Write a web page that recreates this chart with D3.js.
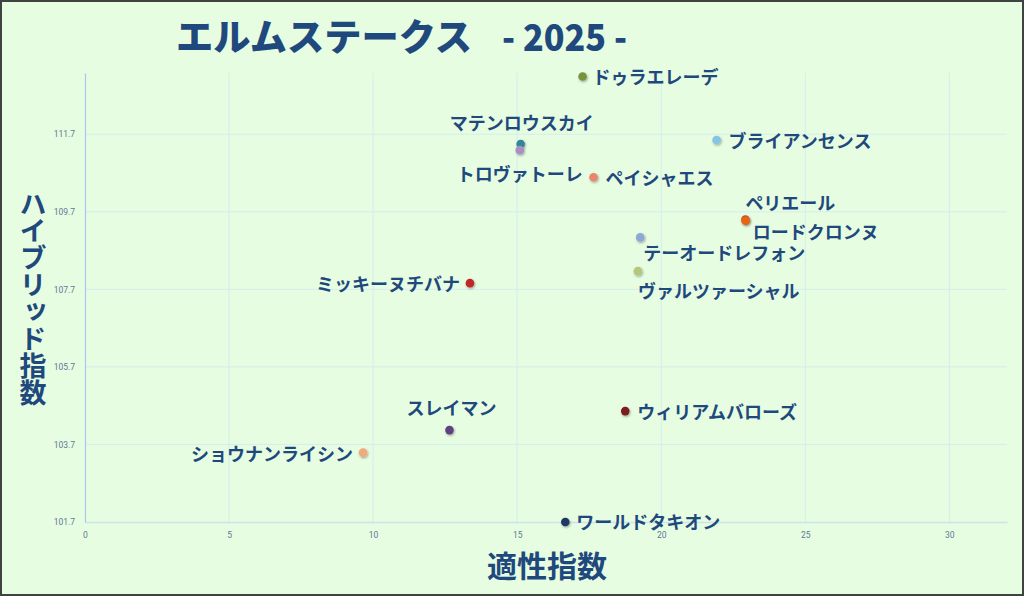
<!DOCTYPE html>
<html><head><meta charset="utf-8">
<script src="https://cdn.jsdelivr.net/npm/d3@7/dist/d3.min.js"></script>
<style>
html,body{margin:0;padding:0;background:#e6fde1;}
svg{display:block;}
</style></head>
<body>
<svg id="chart" width="1024" height="596"></svg>
<script>
// ---- data ----
const horses = ["ドゥラエレーデ","マテンロウスカイ","トロヴァトーレ","ブライアンセンス","ペイシャエス","ペリエール","ロードクロンヌ","テーオードレフォン","ヴァルツァーシャル","ミッキーヌチバナ","スレイマン","ショウナンライシン","ウィリアムバローズ","ワールドタキオン"];
const aptitude = [17.27, 15.12, 15.09, 21.92, 17.65, 22.92, 22.93, 19.27, 19.19, 13.36, 12.65, 9.65, 18.75, 16.67];
const hybrid   = [113.19, 111.45, 111.29, 111.55, 110.59, 109.50, 109.47, 109.04, 108.17, 107.86, 104.07, 103.49, 104.56, 101.70];
const colors   = ["#77933c","#31859c","#a98fc4","#86c5e2","#e8876e","#c0504d","#e8650c","#8ea8d6","#b5c77e","#c0282a","#60407f","#f2a97c","#7b1c1c","#1f3864"];
const xTicks = [0, 5, 10, 15, 20, 25, 30];
const yTicks = [101.7, 103.7, 105.7, 107.7, 109.7, 111.7];
const titleMain = "エルムステークス";
const titleYear = "- 2025 -";
const xTitle = "適性指数";
const yTitle = "ハイブリッド指数";

// ---- label placement (style, not data) ----
const place = {
  "ドゥラエレーデ":{a:"start",dx:10,dy:0},
  "マテンロウスカイ":{a:"middle",dx:1,dy:-22},
  "トロヴァトーレ":{a:"middle",dx:0,dy:23},
  "ブライアンセンス":{a:"start",dx:12,dy:0},
  "ペイシャエス":{a:"start",dx:12,dy:0},
  "ペリエール":{a:"start",dx:0,dy:-18},
  "ロードクロンヌ":{a:"start",dx:7,dy:10},
  "テーオードレフォン":{a:"start",dx:3,dy:15},
  "ヴァルツァーシャル":{a:"start",dx:0,dy:19},
  "ミッキーヌチバナ":{a:"end",dx:-10,dy:0},
  "スレイマン":{a:"middle",dx:2,dy:-23},
  "ショウナンライシン":{a:"end",dx:-10,dy:0},
  "ウィリアムバローズ":{a:"start",dx:12,dy:0},
  "ワールドタキオン":{a:"start",dx:11,dy:-1}
};

const W = 1024, H = 596;
const svg = d3.select("#chart");
const textColor = "#1f497d";
const font = "'Noto Sans CJK JP','Noto Sans',sans-serif";

// background + frame
svg.append("rect").attr("x",0).attr("y",0).attr("width",W).attr("height",H).attr("fill","#e6fde1");
svg.append("rect").attr("x",1).attr("y",1).attr("width",W-2).attr("height",H-2)
  .attr("fill","none").attr("stroke","#3f4240").attr("stroke-width",2);

const x = d3.scaleLinear().domain([0, 32]).range([85, 1007]);
const y = d3.scaleLinear().domain([101.7, 113.28]).range([522, 73]);

// drop shadow
const defs = svg.append("defs");
const f = defs.append("filter").attr("id","sh").attr("x","-50%").attr("y","-50%").attr("width","200%").attr("height","200%");
f.append("feDropShadow").attr("dx",0.8).attr("dy",1.2).attr("stdDeviation",1).attr("flood-color","#000").attr("flood-opacity",0.35);

// gridlines
const grid = svg.append("g");
grid.selectAll("line.v").data(xTicks.filter(d=>d>0)).join("line")
  .attr("x1",d=>x(d)).attr("x2",d=>x(d)).attr("y1",y.range()[1]).attr("y2",y.range()[0])
  .attr("stroke","#d6ecef").attr("stroke-width",1);
grid.selectAll("line.h").data(yTicks.filter(d=>d>101.7)).join("line")
  .attr("x1",x.range()[0]).attr("x2",x.range()[1]).attr("y1",d=>y(d)).attr("y2",d=>y(d))
  .attr("stroke","#d6ecef").attr("stroke-width",1);

// axes
const xAxis = svg.append("g").attr("transform",`translate(0,${y(101.7)})`)
  .call(d3.axisBottom(x).tickValues(xTicks).tickSize(0).tickPadding(10).tickFormat(d3.format("d")));
xAxis.select(".domain").attr("stroke","#cfe3ee").attr("stroke-width",1.5);
xAxis.selectAll("text").attr("fill","#5e7898").attr("font-size",8.5).attr("font-family","'Roboto','Noto Sans',sans-serif");

const yAxis = svg.append("g").attr("transform",`translate(${x(0)},0)`)
  .call(d3.axisLeft(y).tickValues(yTicks).tickSize(0).tickPadding(10).tickFormat(d3.format(".1f")));
yAxis.select(".domain").attr("stroke","#a9c6ee").attr("stroke-width",1.2);
yAxis.selectAll("text").attr("fill","#5e7898").attr("font-size",8.5).attr("font-family","'Roboto','Noto Sans',sans-serif");

// points
const data = horses.map((h,i)=>({name:h, xv:aptitude[i], yv:hybrid[i], c:colors[i]}));
svg.append("g").selectAll("circle").data(data).join("circle")
  .attr("cx",d=>x(d.xv)).attr("cy",d=>y(d.yv)).attr("r",4.3)
  .attr("fill",d=>d.c).attr("filter","url(#sh)");

// labels
svg.append("g").selectAll("text").data(data).join("text")
  .attr("x",d=>x(d.xv)+place[d.name].dx)
  .attr("y",d=>y(d.yv)+place[d.name].dy)
  .attr("text-anchor",d=>place[d.name].a)
  .attr("dominant-baseline","central")
  .attr("font-family",font).attr("font-weight",700).attr("font-size",18)
  .attr("fill",textColor)
  .text(d=>d.name);

// title
svg.append("text").attr("x",176).attr("y",35).attr("dominant-baseline","central")
  .attr("font-family",font).attr("font-weight",900).attr("font-size",37)
  .attr("textLength",296).attr("lengthAdjust","spacingAndGlyphs")
  .attr("fill",textColor).text(titleMain);
svg.append("text").attr("x",502).attr("y",35).attr("dominant-baseline","central")
  .attr("font-family",font).attr("font-weight",900).attr("font-size",37)
  .attr("textLength",125).attr("lengthAdjust","spacingAndGlyphs")
  .attr("fill",textColor).text(titleYear);

// axis titles
svg.append("text").attr("x",547).attr("y",564).attr("text-anchor","middle").attr("dominant-baseline","central")
  .attr("font-family",font).attr("font-weight",700).attr("font-size",30)
  .attr("fill",textColor).text(xTitle);
svg.append("text").attr("x",33).attr("y",298).attr("text-anchor","middle")
  .attr("writing-mode","vertical-rl").style("text-orientation","upright")
  .attr("font-family",font).attr("font-weight",700).attr("font-size",27)
  .attr("fill",textColor).text(yTitle);
</script>
</body></html>
